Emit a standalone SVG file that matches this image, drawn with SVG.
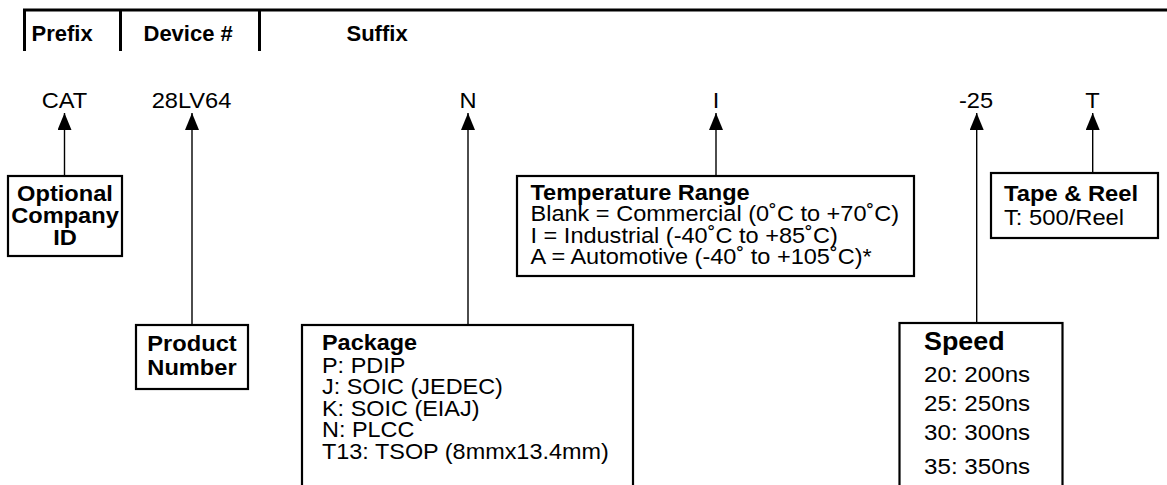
<svg xmlns="http://www.w3.org/2000/svg" width="1167" height="485" viewBox="0 0 1167 485">
<defs>
<style>
text{font-family:"Liberation Sans",Arial,Helvetica,sans-serif;fill:#000;font-size:22px}
.b{font-weight:bold}
.c{text-anchor:middle}
.box{fill:#fff;stroke:#000;stroke-width:2.2}
.hdr{stroke:#000;stroke-width:3;fill:none}
.con{stroke:#000;stroke-width:1.4;fill:none;marker-end:url(#ah)}
</style>
<marker id="ah" viewBox="0 0 17 14" refX="17" refY="7" markerWidth="17" markerHeight="14" markerUnits="userSpaceOnUse" orient="auto">
<path d="M0,0 L17,7 L0,14 z" fill="#000"/>
</marker>
</defs>
<rect width="1167" height="485" fill="#fff"/>
<g id="header">
<path class="hdr" d="M23,10 H1167 M24.5,10 V51 M120.5,10 V51 M259.5,10 V51"/>
<text class="b" x="31.5" y="41">Prefix</text>
<text class="b" x="143.5" y="41">Device #</text>
<text class="b" x="346.5" y="41">Suffix</text>
</g>
<g id="codes">
<g transform="translate(64.5,0) scale(1.075,1)"><text class="c" x="0" y="108.5">CAT</text></g>
<g transform="translate(191.5,0) scale(1.075,1)"><text class="c" x="0" y="108.5">28LV64</text></g>
<g transform="translate(468,0) scale(1.075,1)"><text class="c" x="0" y="108.5">N</text></g>
<g transform="translate(716,0) scale(1.075,1)"><text class="c" x="0" y="108.5">I</text></g>
<g transform="translate(976,0) scale(1.075,1)"><text class="c" x="0" y="108.5">-25</text></g>
<g transform="translate(1092.5,0) scale(1.075,1)"><text class="c" x="0" y="108.5">T</text></g>
</g>
<g id="connectors">
<line class="con" x1="64.5" y1="176" x2="64.5" y2="113"/>
<line class="con" x1="192" y1="325" x2="192" y2="113"/>
<line class="con" x1="468" y1="325" x2="468" y2="113"/>
<line class="con" x1="716" y1="176" x2="716" y2="113"/>
<line class="con" x1="976.7" y1="323" x2="976.7" y2="113"/>
<line class="con" x1="1092.7" y1="173" x2="1092.7" y2="113"/>
</g>
<g id="company">
<rect class="box" x="8" y="176" width="114" height="80"/>
<g transform="translate(65,0) scale(1.075,1)">
<text class="b c" x="0" y="201.5">Optional</text>
<text class="b c" x="0" y="223">Company</text>
<text class="b c" x="0" y="245">ID</text>
</g>
</g>
<g id="product">
<rect class="box" x="136" y="325" width="112" height="64"/>
<g transform="translate(192,0) scale(1.075,1)">
<text class="b c" x="0" y="351.5">Product</text>
<text class="b c" x="0" y="375">Number</text>
</g>
</g>
<g id="package">
<rect class="box" x="302" y="325" width="331" height="175"/>
<g transform="translate(322,0) scale(1.065,1)">
<text class="b" x="0" y="350">Package</text>
<text x="0" y="373">P: PDIP</text>
<text x="0" y="394.5">J: SOIC (JEDEC)</text>
<text x="0" y="416">K: SOIC (EIAJ)</text>
<text x="0" y="437.5">N: PLCC</text>
<text x="0" y="459">T13: TSOP (8mmx13.4mm)</text>
</g>
</g>
<g id="temperature">
<rect class="box" x="517" y="176" width="397" height="100"/>
<g transform="translate(530.5,0) scale(1.07,1)">
<text class="b" x="0" y="200">Temperature Range</text>
<text x="0" y="221.5">Blank = Commercial (0˚C to +70˚C)</text>
<text x="0" y="243">I = Industrial (-40˚C to +85˚C)</text>
<text x="0" y="264.5">A = Automotive (-40˚ to  +105˚C)*</text>
</g>
</g>
<g id="speed">
<rect class="box" x="899.5" y="323" width="163" height="180"/>
<g transform="translate(924,0) scale(1.075,1)">
<text class="b" x="0" y="350" style="font-size:25px">Speed</text>
<text x="0" y="382" style="font-size:22.5px">20: 200ns</text>
<text x="0" y="411" style="font-size:22.5px">25: 250ns</text>
<text x="0" y="440" style="font-size:22.5px">30: 300ns</text>
<text x="0" y="474" style="font-size:22.5px">35: 350ns</text>
</g>
</g>
<g id="tape">
<rect class="box" x="991" y="173" width="167" height="65"/>
<g transform="translate(1004,0) scale(1.08,1)">
<text class="b" x="0" y="201.5">Tape &amp; Reel</text>
<text x="0" y="225.5">T: 500/Reel</text>
</g>
</g>
</svg>
